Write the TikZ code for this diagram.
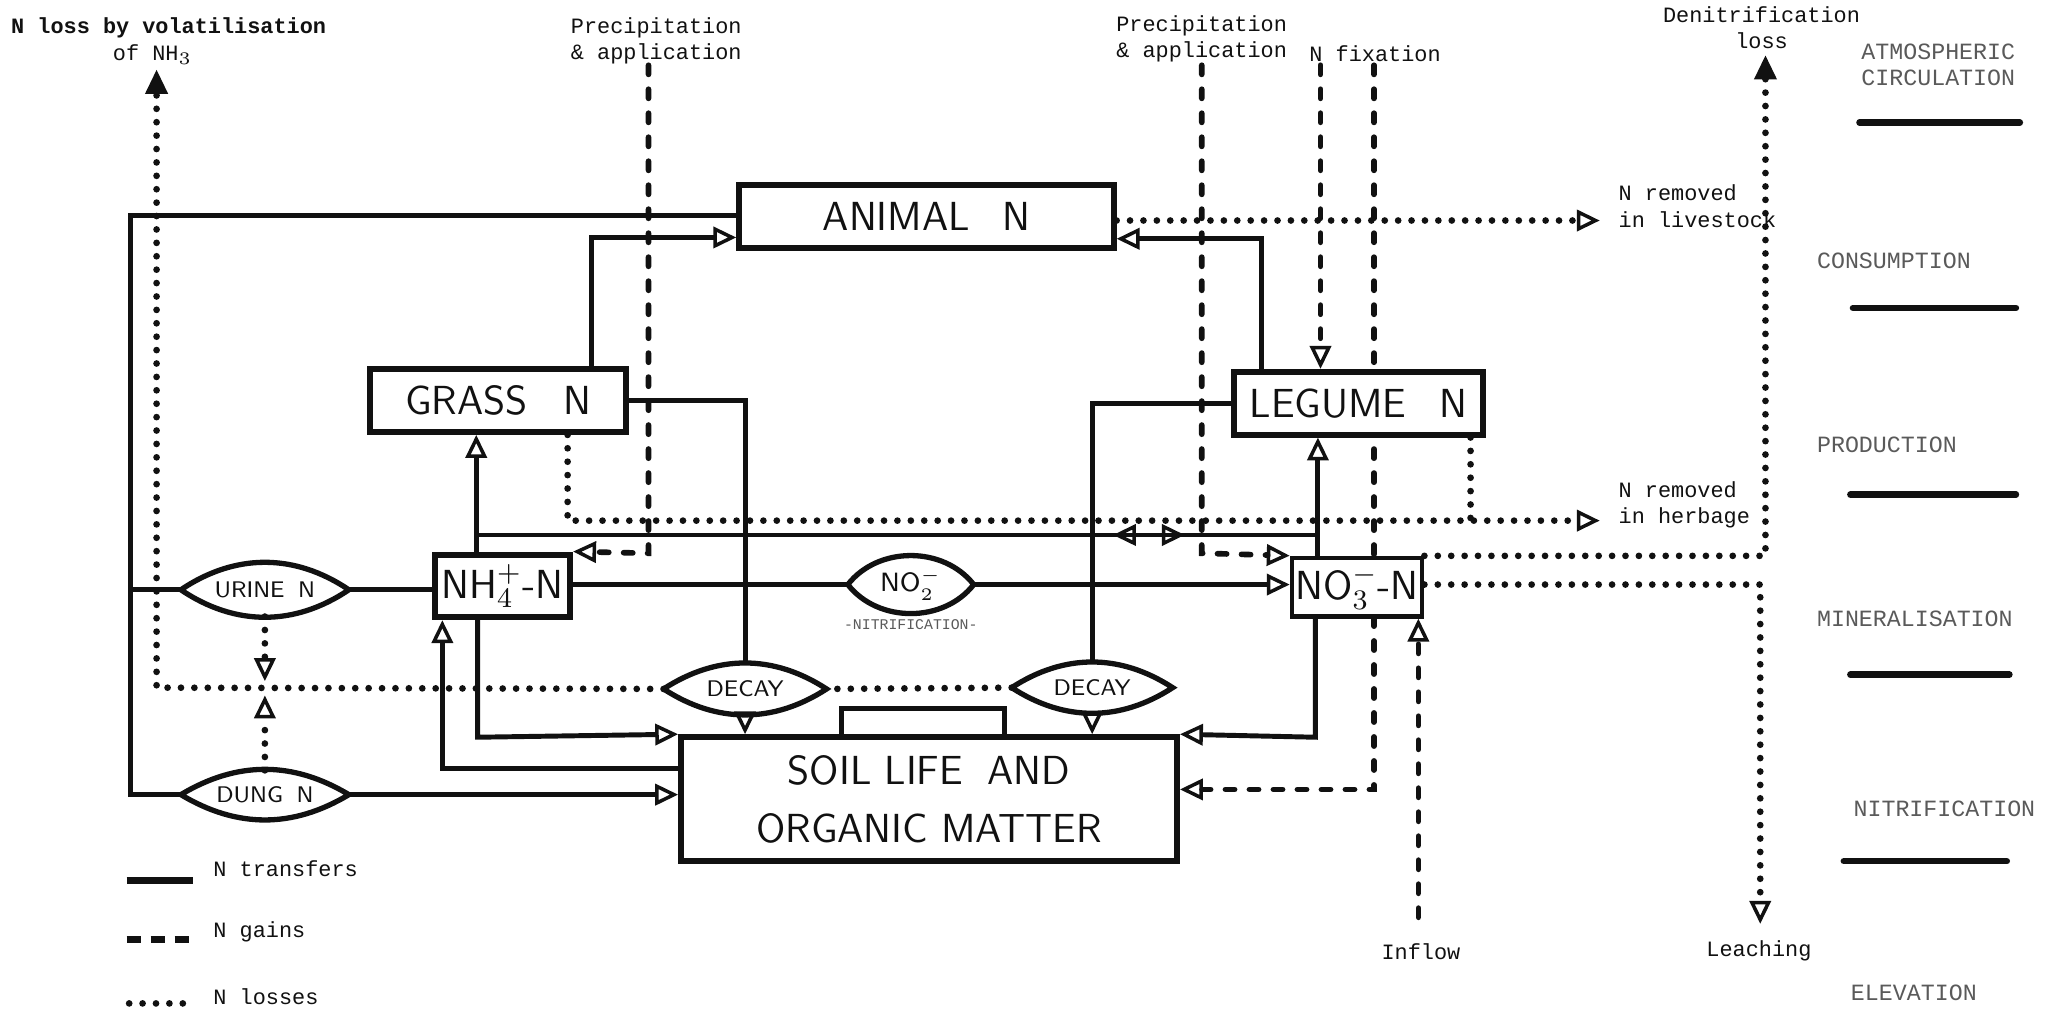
\documentclass[tikz,border=0pt]{standalone}
\usepackage{fontspec}
\setmonofont{Liberation Mono}
\usepackage{xcolor}
\definecolor{cInk}{HTML}{111111}
\definecolor{cFaint}{HTML}{5A5A5A}
\usepackage{tikz}
\usetikzlibrary{positioning,arrows.meta,calc,backgrounds}
\tikzset{
  pool-box/.style={draw=cInk,line width=1.7pt,fill=white,inner sep=0pt,
    minimum height=0.624cm,align=center,text=cInk,
    font=\sffamily\fontsize{11.5}{16.6}\selectfont},
  pool-thin/.style={line width=1.2pt},
  pool-lens/.style={inner sep=0pt,text=cInk,
    font=\sffamily\fontsize{6.4}{7.5}\selectfont},
  lens-line/.style={draw=cInk,line width=1.5pt},
  label-tt/.style={inner sep=0pt,align=left,text=cInk,
    font=\ttfamily\fontsize{6.2}{7.4}\selectfont},
  label-side/.style={inner sep=0pt,align=left,text=cFaint,
    font=\ttfamily\fontsize{6.6}{7.4}\selectfont},
  n-transfer/.style={draw=cInk,line width=1.4pt},
  n-gain/.style={draw=cInk,line width=1.6pt,line cap=round,
    dash pattern=on 2.6pt off 4.2pt},
  n-loss/.style={draw=cInk,line width=1.9pt,line cap=round,
    dash pattern=on 0pt off 3.8pt},
  arrow-open/.style={-{Triangle[open,length=6.5pt,width=6pt,line width=1pt]}},
  arrow-full/.style={-{Triangle[length=7pt,width=6pt]}},
  side-bar/.style={draw=cInk,line width=1.8pt,line cap=round},
}
% pointed lens outline round a pool node
\newcommand{\lensedge}[2]{%
  \draw[lens-line] (#1.west) to[bend left=#2] (#1.east) to[bend left=#2] (#1.west);}

\begin{document}
\begin{tikzpicture}[x=0.013cm,y=-0.013cm]
  \useasboundingbox (0,0) rectangle (1568,774);
  % pools
  \node[pool-box,minimum width=3.73cm] (animal) at (710,166) {ANIMAL\hspace{0.8em}N};
  \node[pool-box,minimum width=2.55cm] (grass) at (382,307) {GRASS\hspace{0.9em}N};
  \node[pool-box,minimum width=2.48cm] (legume) at (1041,309) {LEGUME\hspace{0.8em}N};
  \node[pool-box,minimum width=1.35cm] (nh4) at (385,449) {NH$_4^+$-N};
  \node[pool-box,pool-thin,minimum width=1.30cm,minimum height=0.585cm] (no3) at (1040,450) {NO$_3^-$-N};
  \node[pool-box,minimum width=4.94cm,minimum height=1.235cm] (soil) at (712,612.5)
    {SOIL LIFE\hspace{0.6em}AND\\ORGANIC MATTER};
  \node[pool-lens,minimum width=1.66cm,minimum height=0.52cm] (urine) at (203,452) {URINE\hspace{0.6em}N};
  \node[pool-lens,minimum width=1.66cm,minimum height=0.47cm] (dung) at (203,609) {DUNG\hspace{0.6em}N};
  \node[pool-lens,minimum width=1.24cm,minimum height=0.57cm,
    font=\sffamily\fontsize{7.5}{8}\selectfont] (no2) at (698,448) {NO$_2^-$};
  \node[pool-lens,minimum width=1.61cm,minimum height=0.49cm] (decay1) at (571,528) {DECAY};
  \node[pool-lens,minimum width=1.59cm,minimum height=0.49cm] (decay2) at (837,527) {DECAY};
  \lensedge{urine}{34}
  \lensedge{dung}{31}
  \lensedge{no2}{52}
  \lensedge{decay1}{33}
  \lensedge{decay2}{33}
  \node[label-tt,text=cFaint,font=\ttfamily\fontsize{4.2}{5}\selectfont] (lbl-nitr) at (698,479) {-NITRIFICATION-};
  \draw[n-transfer] (645,565) -- (645,543) -- (770,543) -- (770,565);

  % labels
  \node[label-tt,anchor=west,font=\ttfamily\bfseries\fontsize{6.2}{7.4}\selectfont] (lbl-vol) at (8,21) {N loss by volatilisation};
  \node[label-tt,anchor=west] (lbl-nh3) at (86,42) {of NH$_3$};
  \node[label-tt,anchor=west] (lbl-precip-l) at (437,31) {Precipitation\\\& application};
  \node[label-tt,anchor=west] (lbl-precip-r) at (855,30) {Precipitation\\\& application};
  \node[label-tt,anchor=west] (lbl-fix) at (1003,41) {N fixation};
  \node[label-tt,align=center] (lbl-denit) at (1350,21) {Denitrification\\loss};
  \node[label-tt,anchor=west] (lbl-live) at (1240,158) {N removed\\in livestock};
  \node[label-tt,anchor=west] (lbl-herb) at (1240,387) {N removed\\in herbage};
  \node[label-tt] (lbl-inflow) at (1089,729) {Inflow};
  \node[label-tt] (lbl-leach) at (1348,729) {Leaching};

  % N transfers
  \coordinate (loop) at (100,165);
  \draw[n-transfer] (animal.west |- loop) -- (loop) -- (loop |- dung.west) -- (dung.west);
  \draw[n-transfer] (loop |- urine.west) -- (urine.west);
  \coordinate (g-up) at (453,182);
  \draw[n-transfer,arrow-open] (grass.north -| g-up) -- (g-up) -- (g-up -| animal.west);
  \coordinate (l-up) at (967,183);
  \draw[n-transfer,arrow-open] (legume.north -| l-up) -- (l-up) -- (l-up -| animal.east);
  \draw[n-transfer] (grass.east) -- (grass.east -| decay1.north) -- (decay1.north);
  \draw[n-transfer] (legume.west) -- (legume.west -| decay2.north) -- (decay2.north);
  \draw[n-transfer,arrow-open] (decay1.south) -- (decay1.south |- soil.north);
  \draw[n-transfer,arrow-open] (decay2.south) -- (decay2.south |- soil.north);
  \draw[n-transfer] (urine.east) -- (urine.east -| nh4.west);
  \draw[n-transfer] (nh4.east |- no2.west) -- (no2.west);
  \draw[n-transfer,arrow-open] (no2.east) -- (no2.east -| no3.west);
  \draw[n-transfer,arrow-open] (dung.east) -- (dung.east -| soil.west);
  \coordinate (up-g) at (365,410);
  \coordinate (up-l) at (1010,410);
  \coordinate (up-mid-l) at (853,410);
  \coordinate (up-mid-r) at (908,410);
  \draw[n-transfer,arrow-open] (nh4.north -| up-g) -- (grass.south -| up-g);
  \draw[n-transfer,arrow-open] (no3.north -| up-l) -- (legume.south -| up-l);
  \draw[n-transfer,arrow-open] (up-l) -- (up-mid-l);
  \draw[n-transfer,arrow-open] (up-g) -- (up-mid-r);
  \coordinate (nh4-dn) at (366,565);
  \draw[n-transfer,arrow-open] (nh4.south -| nh4-dn) -- (nh4-dn) -- (soil.north west);
  \coordinate (no3-dn) at (1008,565);
  \draw[n-transfer,arrow-open] (no3.south -| no3-dn) -- (no3-dn) -- (soil.north east);
  \coordinate (min-up) at (339,589);
  \draw[n-transfer,arrow-open] (soil.west |- min-up) -- (min-up) -- (min-up |- nh4.south);

  % N gains
  \coordinate (pa-l-top) at (497,50);
  \coordinate (pa-l) at (497,424);
  \draw[n-gain,arrow-open] (pa-l-top) -- (pa-l) -- (nh4.north east);
  \coordinate (pa-r-top) at (921,50);
  \coordinate (pa-r) at (921,424);
  \draw[n-gain,arrow-open] (pa-r-top) -- (pa-r) -- (no3.north west);
  \coordinate (fix-l) at (1012,50);
  \draw[n-gain,arrow-open] (fix-l) -- (fix-l |- legume.north);
  \coordinate (fix-s-top) at (1053,50);
  \coordinate (fix-s) at (1053,605);
  \begin{scope}[on background layer]
    \draw[n-gain,arrow-open] (fix-s-top) -- (fix-s) -- (fix-s -| soil.east);
  \end{scope}
  \coordinate (in-low) at (1087,703);
  \draw[n-gain,arrow-open] (in-low) -- (in-low |- no3.south);

  % N losses
  \coordinate (vol) at (120,527);
  \coordinate (vol-top) at (120,53);
  \draw[n-loss,arrow-full] (decay1.west) -- (vol) -- (vol-top);
  \draw[n-loss] (decay2.west) -- (decay1.east);
  \coordinate (ur-tip) at (203,522);
  \coordinate (dg-tip) at (203,533);
  \draw[n-loss,arrow-open] (urine.south) -- (ur-tip);
  \draw[n-loss,arrow-open] (dung.north) -- (dg-tip);
  \coordinate (hb) at (435,399);
  \coordinate (hb-lg) at (1127,399);
  \coordinate (hb-end) at (1226,399);
  \draw[n-loss,arrow-open] (grass.south -| hb) -- (hb) -- (hb-end);
  \draw[n-loss] (legume.south -| hb-lg) -- (hb-lg);
  \coordinate (ls-end) at (1226,169);
  \draw[n-loss,arrow-open] (animal.east |- ls-end) -- (ls-end);
  \coordinate (dn) at (1353,426);
  \coordinate (dn-top) at (1353,42);
  \draw[n-loss,arrow-full] (no3.north east |- dn) -- (dn) -- (dn-top);
  \coordinate (lc) at (1349,448);
  \coordinate (lc-end) at (1349,708);
  \draw[n-loss,arrow-open] (no3.east |- lc) -- (lc) -- (lc-end);

  % key
  \draw[n-transfer,line width=1.9pt] (97,675) -- (148,675);
  \draw[n-gain,line width=2.1pt,line cap=butt,dash pattern=on 4.2pt off 2.6pt] (97,720) -- (148,720);
  \draw[n-loss] (99,769) -- (150,769);
  \node[label-tt,anchor=west] (key-transfer) at (163,666) {N transfers};
  \node[label-tt,anchor=west] (key-gain) at (163,714) {N gains};
  \node[label-tt,anchor=west] (key-loss) at (163,764) {N losses};

  % right column
  \node[label-side,anchor=west] (side-atm) at (1426,50) {ATMOSPHERIC\\CIRCULATION};
  \node[label-side,anchor=west] (side-con) at (1392,200) {CONSUMPTION};
  \node[label-side,anchor=west] (side-pro) at (1392,341) {PRODUCTION};
  \node[label-side,anchor=west] (side-min) at (1392,474) {MINERALISATION};
  \node[label-side,anchor=west] (side-nit) at (1420,620) {NITRIFICATION};
  \node[label-side,anchor=west] (side-ele) at (1418,761) {ELEVATION};
  \foreach \yb/\xa/\xb in {94/1425/1548,236/1420/1545,379/1418/1545,517/1418/1540,660/1413/1538}
    \draw[side-bar] (\xa,\yb) -- (\xb,\yb);
\end{tikzpicture}
\end{document}
